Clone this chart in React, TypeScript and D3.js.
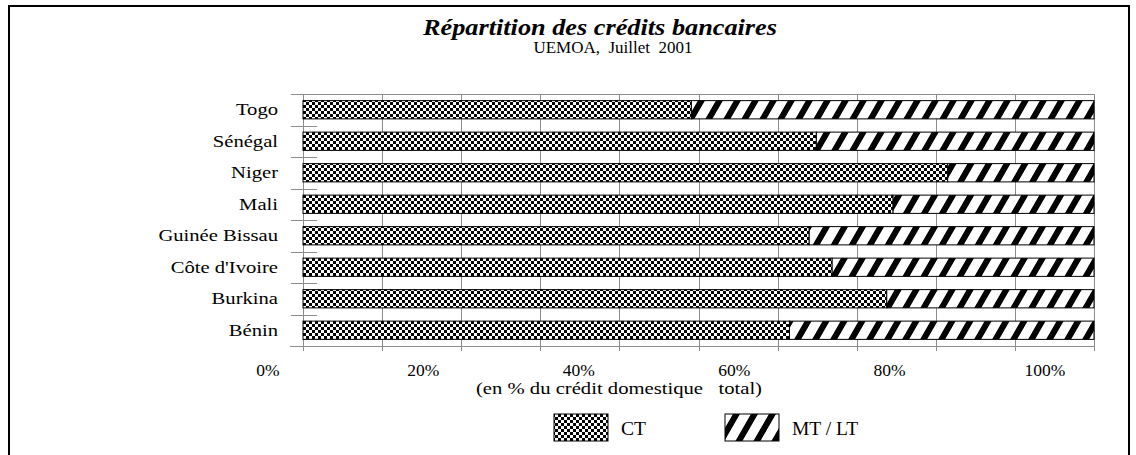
import React from 'react';
import * as d3 from 'd3';

const categories = ["Togo", "Sénégal", "Niger", "Mali", "Guinée Bissau", "Côte d'Ivoire", "Burkina", "Bénin"];
const ctValues = [49.1, 64.9, 81.5, 74.6, 64.0, 66.9, 73.8, 61.5];
const mtltValues = [50.9, 35.1, 18.5, 25.4, 36.0, 33.1, 26.2, 38.5];
const seriesNames = ["CT", "MT / LT"];
const gridTicks = [0, 10, 20, 30, 40, 50, 60, 70, 80, 90, 100];
const labelTicks = [0, 20, 40, 60, 80, 100];
const tickLabels = ["0%", "20%", "40%", "60%", "80%", "100%"];
const titleText = "Répartition des crédits bancaires";
const subtitleText = "UEMOA,  Juillet  2001";
const axisTitle = "(en % du crédit domestique   total)";

const FONT = "'Liberation Serif', 'DejaVu Serif', serif";

export default function App() {
  const x = d3.scaleLinear().domain([0, 100]).range([303, 1094]);
  const xLabel = d3.scaleLinear().domain([0, 100]).range([268, 1045]);
  const y = d3.scaleBand<string>().domain(categories).range([94, 346]).paddingInner(0.42).paddingOuter(0.21);
  const step = y.step();
  const bw = y.bandwidth();
  const top = 94;
  const bottom = 346;
  const boundaries = d3.range(1, categories.length).map(i => top + i * step);

  const stack = categories.map((c, i) => ({
    cat: c,
    segs: [
      { key: 0, x0: 0, x1: ctValues[i] },
      { key: 1, x0: ctValues[i], x1: ctValues[i] + mtltValues[i] },
    ],
  }));

  const fills = ["url(#ctPat)", "url(#mtPat)"];

  return (
    <svg width={1136} height={455} style={{ position: 'absolute', left: 0, top: 0, background: 'white' }} fontFamily={FONT}>
      <defs>
        <pattern id="ctPat" patternUnits="userSpaceOnUse" width={6} height={6}>
          <rect width={6} height={6} fill="white" />
          <rect x={0} y={0} width={3} height={3} fill="black" />
          <rect x={3} y={3} width={3} height={3} fill="black" />
        </pattern>
        <pattern id="mtPat" patternUnits="userSpaceOnUse" width={18} height={18} patternTransform="skewX(-30)">
          <rect width={18} height={18} fill="white" />
          <rect x={0} y={0} width={7} height={18} fill="black" />
        </pattern>
      </defs>
      <rect x={0} y={0} width={1136} height={455} fill="white" />
      <rect x={9} y={6} width={1120} height={460} fill="none" stroke="black" strokeWidth={2} />

      {/* title */}
      <text x={600} y={35} textAnchor="middle" fontSize={24} fontWeight="bold" fontStyle="italic"
        textLength={354} lengthAdjust="spacingAndGlyphs">{titleText}</text>
      <text x={613} y={53} textAnchor="middle" fontSize={17} style={{ whiteSpace: 'pre' }}>{subtitleText}</text>

      {/* grid */}
      {gridTicks.map(t => (
        <line key={'g' + t} x1={Math.round(x(t)) + 0.5} x2={Math.round(x(t)) + 0.5} y1={top} y2={bottom + 5} stroke="#8c8c8c" strokeWidth={1} />
      ))}
      <line x1={291} x2={x(100) + 1} y1={top + 0.5} y2={top + 0.5} stroke="#8c8c8c" />
      <line x1={290} x2={x(100) + 1} y1={bottom + 0.5} y2={bottom + 0.5} stroke="#8c8c8c" />
      {boundaries.map((b, i) => (
        <line key={'b' + i} x1={291} x2={317} y1={Math.round(b) + 0.5} y2={Math.round(b) + 0.5} stroke="#8c8c8c" />
      ))}

      {/* bars */}
      {stack.map(row => (
        <g key={row.cat}>
          {row.segs.map(s => (
            <rect key={s.key} x={x(s.x0)} y={y(row.cat)!} width={x(s.x1) - x(s.x0)} height={bw}
              fill={fills[s.key]} stroke="black" strokeWidth={1} />
          ))}
        </g>
      ))}

      {/* category labels */}
      {categories.map(c => (
        <text key={c} transform={`translate(278,${y(c)! + bw / 2 + 5.5}) scale(1.25,1)`} textAnchor="end" fontSize={16.5}>{c}</text>
      ))}

      {/* tick labels */}
      {labelTicks.map((t, i) => (
        <text key={'t' + t} x={xLabel(t)} y={376} textAnchor="middle" fontSize={17.5}>{tickLabels[i]}</text>
      ))}
      <text x={619} y={394} textAnchor="middle" fontSize={17.5} textLength={286} lengthAdjust="spacingAndGlyphs"
        style={{ whiteSpace: 'pre' }}>{axisTitle}</text>

      {/* legend */}
      {seriesNames.map((n, i) => {
        const lx = [554, 725][i];
        return (
          <g key={n}>
            <rect x={lx} y={414} width={54} height={27} fill={fills[i]} stroke="black" strokeWidth={1} />
            <text x={lx + 67} y={435} fontSize={19.5}>{n}</text>
          </g>
        );
      })}
    </svg>
  );
}
